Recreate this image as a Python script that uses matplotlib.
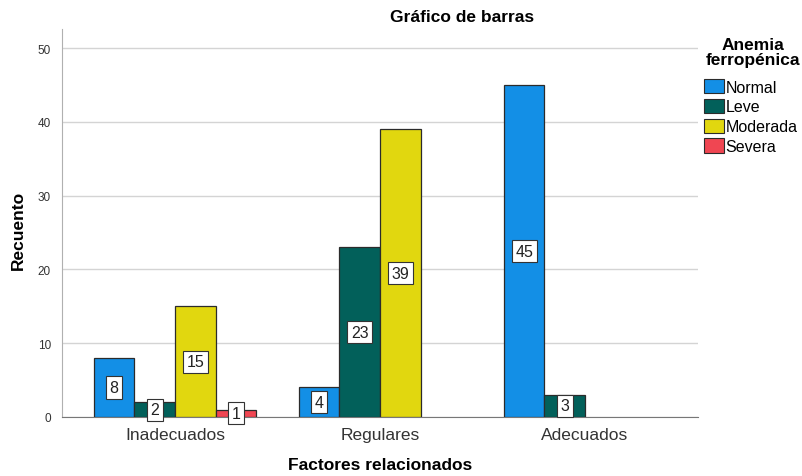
import numpy as np
import matplotlib
matplotlib.use("Agg")
import matplotlib.pyplot as plt
from matplotlib.patches import Patch

plt.rcParams['font.family'] = ['Liberation Sans', 'DejaVu Sans']

categories = ['Inadecuados', 'Regulares', 'Adecuados']
series = ['Normal', 'Leve', 'Moderada', 'Severa']
normal = [8, 4, 45]
leve = [2, 23, 3]
moderada = [15, 39, 0]
severa = [1, 0, 0]
colors = ['#138fe6', '#02605a', '#e1d70f', '#f04652']

values = [normal, leve, moderada, severa]

fig = plt.figure(figsize=(8.03, 4.77), dpi=100)
ax = fig.add_axes([0.0772, 0.1237, 0.7920, 0.8133])

x = np.arange(len(categories))
w = 0.198
for i, (name, vals) in enumerate(zip(series, values)):
    pos = x + (i - 1.5) * w
    for p, v in zip(pos, vals):
        if v == 0:
            continue
        ax.bar(p, v, width=w, color=colors[i], edgecolor='#2b2b2b',
               linewidth=0.9, zorder=3)
        ax.text(p, v / 2, str(v), ha='center', va='center', fontsize=11.5,
                color='#222222', zorder=4,
                bbox=dict(boxstyle='square,pad=0.22', fc='white',
                          ec='#333333', lw=0.8))

ax.set_xlim(-0.551, 2.551)
ax.set_ylim(0, 52.6)
ax.set_yticks([0, 10, 20, 30, 40, 50])
ax.set_xticks(x)
ax.set_xticklabels(categories, fontsize=12.5, color='#333333')
ax.tick_params(axis='y', length=0, labelsize=8.5, colors='#333333', pad=8)
ax.tick_params(axis='x', length=0, pad=7)
ax.grid(axis='y', color='#d4d4d4', linewidth=1, zorder=0)
for s in ['top', 'right']:
    ax.spines[s].set_visible(False)
ax.spines['left'].set_color('#b0b0b0')
ax.spines['bottom'].set_color('#777777')

fig.text(18 / 803, 1 - 230 / 477, 'Recuento', rotation=90, ha='center',
         va='center', fontsize=12.5, fontweight='bold')
fig.text(380 / 803, 1 - 466 / 477, 'Factores relacionados', ha='center',
         va='center', fontsize=12.5, fontweight='bold')
fig.text(462 / 803, 1 - 17 / 477, 'Gráfico de barras', ha='center',
         va='center', fontsize=12.5, fontweight='bold')

# legend title placed by hand, centred over the entries
fig.text(753 / 803, 1 - 53 / 477, 'Anemia\nferropénica', ha='center',
         va='center', fontsize=12.5, fontweight='bold', linespacing=1.0)

handles = [Patch(facecolor=c, edgecolor='#2b2b2b', linewidth=0.8) for c in colors]
leg = fig.legend(handles, series, loc='upper left',
                 bbox_to_anchor=(704 / 803, 1 - 80 / 477),
                 frameon=False, fontsize=11.5,
                 handlelength=1.25, handleheight=1.0, handletextpad=0.1,
                 labelspacing=0.26, borderaxespad=0, borderpad=0)

fig.savefig('out.png', dpi=100)
